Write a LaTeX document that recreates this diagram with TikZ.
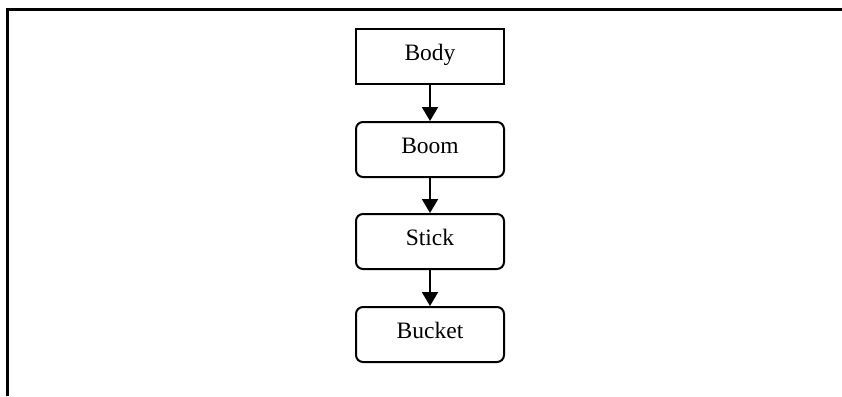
\documentclass[tikz,border=0pt]{standalone}
\usepackage{fontspec}
\setmainfont{Liberation Serif}
\usetikzlibrary{arrows.meta}
\begin{document}
\begin{tikzpicture}[x=1pt,y=1pt,
  part/.style={draw, line width=2pt, minimum width=148pt, minimum height=55pt,
    inner sep=0pt, text height=12pt, text depth=4pt,
    font=\fontsize{23.5}{28}\selectfont},
  roundpart/.style={part, rounded corners=7pt},
  link/.style={line width=2pt, -{Triangle[length=14pt,width=16pt]}}]
  \useasboundingbox (0,0) rectangle (842,-396);
  % frame: top and left edges only
  \coordinate (fbl) at (7,-396);
  \coordinate (ftl) at (7,-10);
  \coordinate (ftr) at (842,-10);
  \draw[line width=3pt] (fbl) -- (ftl) -- (ftr);
  % chain of parts
  \node[part] (body) at (430,-56.5) {Body};
  \node[roundpart] (boom) at (430,-149.5) {Boom};
  \node[roundpart] (stick) at (430,-241.5) {Stick};
  \node[roundpart] (bucket) at (430,-334.5) {Bucket};
  \draw[link] (body) -- (boom);
  \draw[link] (boom) -- (stick);
  \draw[link] (stick) -- (bucket);
\end{tikzpicture}
\end{document}
